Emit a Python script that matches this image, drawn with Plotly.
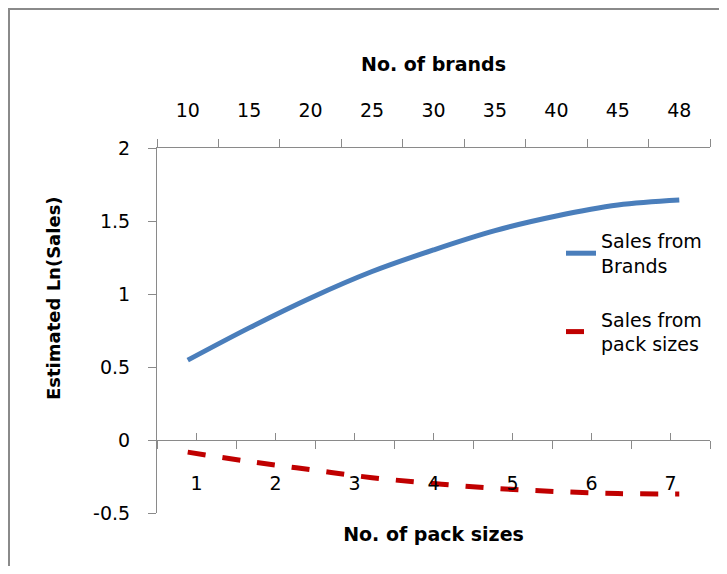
import plotly.graph_objects as go

# ---- data ----
brands = ["10", "15", "20", "25", "30", "35", "40", "45", "48"]
pack_sizes = ["1", "2", "3", "4", "5", "6", "7"]
sales_from_brands = [0.547, 0.768, 0.973, 1.154, 1.302, 1.434, 1.534, 1.609, 1.643]
sales_from_pack_sizes = [-0.083, -0.147, -0.203, -0.258, -0.298, -0.331, -0.353, -0.367, -0.370]
y_tick_values = [-0.5, 0, 0.5, 1, 1.5, 2]
y_tick_labels = ["-0.5", "0", "0.5", "1", "1.5", "2"]
y_range = [-0.5, 2]

FONT = "DejaVu Sans"
AXIS_GREY = "#8a8a8a"
BLUE = "#4a7ebb"
RED = "#c00000"

# page has an 8px body margin, so the figure is sized to fit the 727x574 window
W, H = 711, 558
ML, MR, MT, MB = 149, 9, 140, 53
plot_w = W - ML - MR
plot_h = H - MT - MB

def px_x(p):
    return (p - ML) / plot_w

def px_y(p):
    return (H - MB - p) / plot_h

zero_pos = (0 - y_range[0]) / (y_range[1] - y_range[0])

fig = go.Figure()

fig.add_trace(go.Scatter(
    x=brands, y=sales_from_brands, xaxis="x2", yaxis="y",
    mode="lines", line=dict(color=BLUE, width=5, shape="spline"),
    name="Sales from<br>Brands", legendgroup="a",
))
fig.add_trace(go.Scatter(
    x=brands, y=sales_from_pack_sizes, xaxis="x2", yaxis="y",
    mode="lines", line=dict(color=RED, width=5, dash="18px,17px", shape="spline"),
    name="Sales from<br>pack sizes", legendgroup="b",
))
# empty carriers so that the pack-size axis (and its centre tick marks) is drawn
for ax in ("x", "x3"):
    fig.add_trace(go.Scatter(
        x=pack_sizes, y=[None] * len(pack_sizes), xaxis=ax, yaxis="y",
        mode="lines", showlegend=False, hoverinfo="skip",
    ))

axis_font = dict(family=FONT, size=19, color="#000")

fig.update_layout(
    width=W, height=H,
    margin=dict(l=ML, r=MR, t=MT, b=MB),
    paper_bgcolor="white", plot_bgcolor="white",
    font=dict(family=FONT, size=19, color="#000"),
    showlegend=True,
    legend=dict(
        x=px_x(553), y=px_y(214),
        xanchor="left", yanchor="top",
        bgcolor="rgba(0,0,0,0)", font=dict(family=FONT, size=19, color="#000"),
        tracegroupgap=26,
    ),
    # bottom axis: No. of pack sizes (crosses y at 0)
    xaxis=dict(
        type="category", categoryorder="array", categoryarray=pack_sizes,
        range=[-0.5, len(pack_sizes) - 0.5],
        anchor="free", position=zero_pos,
        showline=True, linecolor=AXIS_GREY, linewidth=1,
        showgrid=False, zeroline=False,
        tickson="boundaries", ticks="outside", ticklen=8, tickcolor=AXIS_GREY,
        showticklabels=True, tickfont=axis_font, ticklabelstandoff=26,
        title=dict(text="<b>No. of pack sizes</b>", font=dict(family=FONT, size=19), standoff=34),
    ),
    xaxis3=dict(
        type="category", categoryorder="array", categoryarray=pack_sizes,
        range=[-0.5, len(pack_sizes) - 0.5],
        overlaying="x", anchor="free", position=zero_pos,
        showline=False, showgrid=False, zeroline=False,
        ticks="inside", ticklen=7, tickcolor=AXIS_GREY,
        showticklabels=False,
    ),
    # top axis: No. of brands
    xaxis2=dict(
        type="category", categoryorder="array", categoryarray=brands,
        range=[-0.5, len(brands) - 0.5],
        overlaying="x", side="top", anchor="y",
        showline=True, linecolor=AXIS_GREY, linewidth=1,
        showgrid=False, zeroline=False,
        tickson="boundaries", ticks="outside", ticklen=8, tickcolor=AXIS_GREY,
        tickfont=axis_font, ticklabelstandoff=22,
        title=dict(text="<b>No. of brands</b>", font=dict(family=FONT, size=19), standoff=22),
    ),
    yaxis=dict(
        range=y_range, tickmode="array", tickvals=y_tick_values, ticktext=y_tick_labels,
        anchor="x", showline=True, linecolor=AXIS_GREY, linewidth=1,
        showgrid=False, zeroline=False,
        ticks="outside", ticklen=8, tickcolor=AXIS_GREY,
        tickfont=axis_font, ticklabelstandoff=14,
    ),
    annotations=[dict(
        text="<b>Estimated Ln(Sales)</b>", textangle=-90,
        xref="paper", yref="paper",
        x=px_x(45), y=px_y(290),
        xanchor="center", yanchor="middle", showarrow=False,
        font=dict(family=FONT, size=18, color="#000"),
    )],
    shapes=[dict(
        type="rect", xref="paper", yref="paper",
        x0=px_x(1), x1=px_x(760),
        y0=px_y(600), y1=px_y(1),
        line=dict(color=AXIS_GREY, width=2), fillcolor="rgba(0,0,0,0)", layer="below",
    )],
)

fig.write_html("out.html")
